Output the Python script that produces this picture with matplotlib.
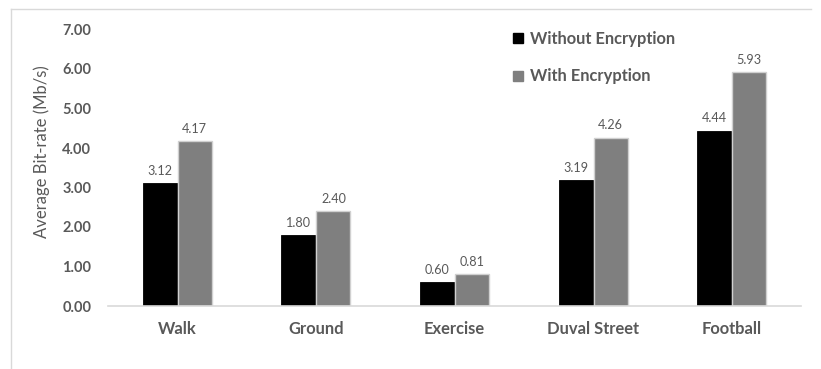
import matplotlib.pyplot as plt
import numpy as np
from matplotlib.lines import Line2D

categories = ['Walk', 'Ground', 'Exercise', 'Duval Street', 'Football']
without_enc = [3.12, 1.80, 0.60, 3.19, 4.44]
with_enc = [4.17, 2.40, 0.81, 4.26, 5.93]
yticks = [0, 1, 2, 3, 4, 5, 6, 7]

text_grey = '#595959'
plt.rcParams['font.family'] = ['Lato', 'DejaVu Sans']

fig = plt.figure(figsize=(8.21, 3.69), dpi=100)
ax = fig.add_axes([108 / 821, 63 / 369, 693 / 821, 276.5 / 369])

x = np.arange(len(categories))
w = 0.245
b1 = ax.bar(x - w / 2 - 0.004, without_enc, w, color='black', edgecolor='black',
            linewidth=0.6, label='Without Encryption')
b2 = ax.bar(x + w / 2 + 0.004, with_enc, w, color='#7f7f7f', edgecolor='#d0d0d0',
            linewidth=1.0, label='With Encryption')

# value labels above each bar
for bars in (b1, b2):
    for r in bars:
        ax.annotate(f'{r.get_height():.2f}', (r.get_x() + r.get_width() / 2, r.get_height()),
                    xytext=(0, 4.5), textcoords='offset points', ha='center', va='bottom',
                    fontsize=9.1, color=text_grey)

ax.set_xlim(-0.5, len(categories) - 0.5)
ax.set_ylim(0, 7)
ax.set_yticks(yticks)
ax.set_yticklabels([f'{v:.2f}' for v in yticks], fontsize=10.5, color=text_grey, fontweight='bold')
ax.set_xticks(x)
ax.set_xticklabels(categories, fontsize=11.9, color=text_grey, fontweight='bold')
ax.tick_params(axis='both', length=0)
ax.tick_params(axis='y', pad=12)
ax.tick_params(axis='x', pad=10.5)
ax.set_ylabel('Average Bit-rate (Mb/s)', fontsize=12, color=text_grey)
ax.yaxis.set_label_coords(-0.084, 0.557)

for s in ('top', 'right', 'left'):
    ax.spines[s].set_visible(False)
ax.spines['bottom'].set_color('#d9d9d9')
ax.spines['bottom'].set_linewidth(1.2)

handles = [
    Line2D([], [], marker='s', ls='none', color='black', markersize=6.5),
    Line2D([], [], marker='s', ls='none', color='#7f7f7f', markersize=6.5),
]
leg = fig.legend(handles, ['Without Encryption', 'With Encryption'], loc='upper left',
                 bbox_to_anchor=(513.5 / 821, 1 - 31 / 369), frameon=False,
                 borderpad=0, borderaxespad=0,
                 handlelength=0.6, handletextpad=0.4, labelspacing=1.3,
                 prop={'size': 11.9, 'weight': 'bold'})
for t in leg.get_texts():
    t.set_color(text_grey)

# chart area border (left and top edges)
fig.add_artist(Line2D([11 / 821, 11 / 821], [0, 1 - 9 / 369], color='#d9d9d9', lw=1.0))
fig.add_artist(Line2D([11 / 821, 811 / 821], [1 - 9 / 369, 1 - 9 / 369], color='#d9d9d9', lw=1.0))

fig.savefig('out.png', dpi=100)
